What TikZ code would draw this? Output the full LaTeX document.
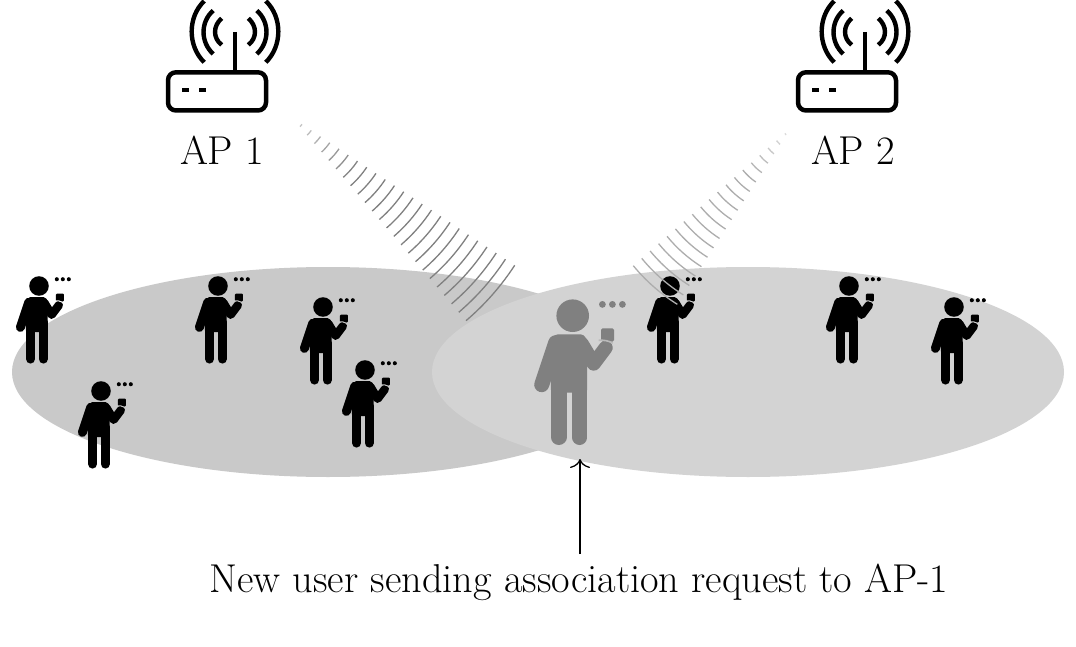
\documentclass[tikz,border=0pt]{standalone}
\usetikzlibrary{arrows.meta}
\definecolor{leftzone}{HTML}{C9C9C9}
\definecolor{rightzone}{HTML}{D3D3D3}
\definecolor{newuser}{HTML}{808080}
\newcommand\drawperson[5]{%
 \begin{scope}[shift={(#1,#2)},scale=#3]
  \fill[#4] (0,0) circle (16.3);
  \foreach \dx in {29.7,39.7,49.7} \fill[#4] (\dx,-11.3) circle (3.4);
  \fill[#4,rounded corners=#3*1.5pt] (28.3,12.7) rectangle (41.3,26);
  \draw[#4,line cap=round,line width=#3*15.6pt] (-14,60) -- (-14,121.5);
  \draw[#4,line cap=round,line width=#3*15pt] (7,60) -- (7,121.8);
  \fill[#4,rounded corners=#3*3pt] (-21.8,77) -- (-21.8,45) -- (-24,30) -- (-18,18.7) -- (11,18.7) -- (16,28) -- (14.5,45) -- (14.5,77) -- cycle;
  \draw[#4,line cap=round,line width=#3*15pt] (-17,27) -- (-31,69);
  \draw[#4,line cap=round,line join=round,line width=#3*14pt] (9,28) -- (21,48) -- (33,32);
  \draw[#5,line width=#3*1.6pt] (26,24.6) .. controls (31,24.2) and (36,25) .. (40,27.5);
 \end{scope}}
\newcommand\drawrouter[1]{%
 \begin{scope}[shift={(#1,0)}]
  \draw[black,line width=4.5pt,rounded corners=8pt] (-67,72.3) rectangle (31,110.5);
  \fill (-53.3,88) rectangle (-46,92);
  \fill (-36,88) rectangle (-28.7,92);
  \draw[line width=4.5pt] (0,32) -- (0,72);
  \foreach \s in {-1,1} {
   \draw[line width=4.4pt] (\s*13.3,18.3) .. controls (\s*22.2,26) and (\s*22.2,38) .. (\s*13.3,45);
   \draw[line width=4.4pt] (\s*21.8,10.5) .. controls (\s*34.7,22) and (\s*34.7,42) .. (\s*21.8,54);
   \draw[line width=4.4pt] (\s*30.8,1) .. controls (\s*47.5,17) and (\s*47.5,46) .. (\s*30.8,62.3);
  }
 \end{scope}}
\begin{document}
\begin{tikzpicture}[x=1pt,y=-1pt,
  zone/.style={draw=none},
  label/.style={inner sep=0pt,anchor=base,font=\fontsize{40.3}{44}\selectfont},
  ]
\useasboundingbox (0,0) rectangle (1076,647);
\fill[white] (0,0) rectangle (1076,647);
% coverage zones
\fill[zone,leftzone] (328,372) ellipse [x radius=316,y radius=105];
\fill[zone,rightzone] (748,372) ellipse [x radius=316,y radius=105];
% access points
\drawrouter{235}
\drawrouter{865}
\node[label] (ap1) at (222,165) {AP 1};
\node[label] (ap2) at (853,165) {AP 2};
% users
\drawperson{39}{286}{0.6}{black}{white}
\drawperson{218}{286}{0.6}{black}{leftzone}
\drawperson{323}{307}{0.6}{black}{leftzone}
\drawperson{365}{370}{0.6}{black}{leftzone}
\drawperson{101}{391}{0.6}{black}{leftzone}
\drawperson{670}{286}{0.6}{black}{rightzone}
\drawperson{849}{286}{0.6}{black}{rightzone}
\drawperson{954}{307}{0.6}{black}{rightzone}
% waves AP1
\foreach \i in {0,...,23} {
  \pgfmathsetmacro\t{\i/23}
  \pgfmathsetmacro\ax{302+212.7*\t}
  \pgfmathsetmacro\ay{124.3+141*\t}
  \pgfmathsetmacro\bx{300+166*\t}
  \pgfmathsetmacro\by{126.7+194*\t}
  \pgfmathsetmacro\cax{\ax+(\bx-\ax)/3+2.7*\t}
  \pgfmathsetmacro\cay{\ay+(\by-\ay)/3+2.3*\t}
  \pgfmathsetmacro\cbx{\ax+2*(\bx-\ax)/3+2.7*\t}
  \pgfmathsetmacro\cby{\ay+2*(\by-\ay)/3+2.3*\t}
  \pgfmathsetmacro\sh{min(100,45+\t*200)}
  \draw[newuser!\sh!white,line width=1.3pt] (\ax,\ay) .. controls (\cax,\cay) and (\cbx,\cby) .. (\bx,\by);
}
% waves AP2
\foreach \i in {0,...,18} {
  \pgfmathsetmacro\t{\i/18}
  \pgfmathsetmacro\ax{785-151.7*\t}
  \pgfmathsetmacro\ay{133.3+132.4*\t}
  \pgfmathsetmacro\bx{786-108.7*\t}
  \pgfmathsetmacro\by{135+169.3*\t}
  \pgfmathsetmacro\cax{\ax+(\bx-\ax)/3-2.1*\t}
  \pgfmathsetmacro\cay{\ay+(\by-\ay)/3+2.4*\t}
  \pgfmathsetmacro\cbx{\ax+2*(\bx-\ax)/3-2.1*\t}
  \pgfmathsetmacro\cby{\ay+2*(\by-\ay)/3+2.4*\t}
  \pgfmathsetmacro\sh{min(100,45+\t*200)}
  \draw[black!32!white,opacity=\sh/100,line width=1.3pt] (\ax,\ay) .. controls (\cax,\cay) and (\cbx,\cby) .. (\bx,\by);
}
% new user
\drawperson{572.7}{315.7}{1}{newuser}{rightzone!70!newuser}
% label and arrow
\node[label] (newlabel) at (579,592) {New user sending association request to AP-1};
\coordinate (arrowfoot) at (580,554);
\coordinate (arrowtip) at (580,459);
\draw[line width=1.3pt,-{Computer Modern Rightarrow[length=9pt,width=20pt]}] (arrowfoot) -- (arrowtip);
\end{tikzpicture}
\end{document}
